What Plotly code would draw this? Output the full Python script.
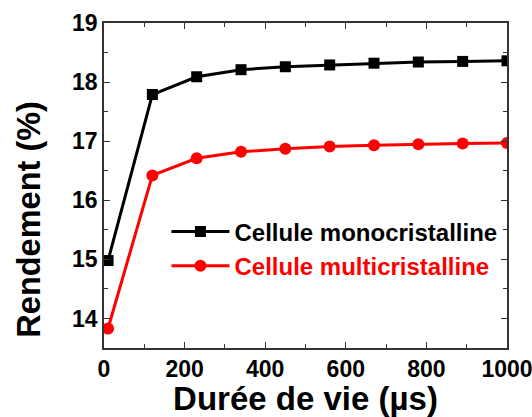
import plotly.graph_objects as go

lifetime = [10, 120, 230, 340, 450, 560, 670, 780, 890, 1000]
mono = [14.98, 17.79, 18.09, 18.21, 18.26, 18.29, 18.32, 18.34, 18.35, 18.36]
multi = [13.83, 16.42, 16.71, 16.82, 16.87, 16.91, 16.93, 16.95, 16.96, 16.97]
name_mono = "Cellule monocristalline"
name_multi = "Cellule multicristalline"
x_title = "Durée de vie (µs)"
y_title = "Rendement (%)"

FONT = "Arial, Liberation Sans, sans-serif"

fig = go.Figure()
fig.add_trace(go.Scatter(
    x=lifetime, y=mono, mode="lines+markers",
    name="<b>" + name_mono + "</b>",
    line=dict(color="black", width=3),
    marker=dict(symbol="square", size=11, color="black"),
))
fig.add_trace(go.Scatter(
    x=lifetime, y=multi, mode="lines+markers",
    name='<b><span style="color:#ff0000">' + name_multi + "</span></b>",
    line=dict(color="#ff0000", width=3),
    marker=dict(symbol="circle", size=12, color="#ff0000"),
))

axis_common = dict(
    showline=True, linecolor="#333333", linewidth=1.5, mirror="ticks",
    ticks="inside", ticklen=6, tickwidth=1.2, tickcolor="#333333",
    showgrid=False, zeroline=False, automargin=False, ticklabeloverflow="allow",
    tickfont=dict(family=FONT, size=23, color="black", weight="bold"),
)

fig.update_layout(
    width=532, height=417,
    margin=dict(l=104, r=25, t=23, b=69, autoexpand=False),
    paper_bgcolor="white", plot_bgcolor="white",
    showlegend=True,
    legend=dict(
        x=0.155, y=0.305, xanchor="left", yanchor="middle",
        bgcolor="rgba(0,0,0,0)", borderwidth=0,
        font=dict(family=FONT, size=24, color="black"),
        tracegroupgap=0, itemwidth=58,
    ),
    xaxis=dict(
        range=[0, 1000], tickvals=[0, 200, 400, 600, 800, 1000],
        minor=dict(tickvals=[100, 300, 500, 700, 900], ticks="inside", ticklen=4, tickcolor="#333333"),
        title=dict(text="<b>" + x_title + "</b>", font=dict(family=FONT, size=33, color="black"), standoff=1),
        **axis_common,
    ),
    yaxis=dict(
        range=[13.5, 19], tickvals=[14, 15, 16, 17, 18, 19],
        minor=dict(tickvals=[13.5, 14.5, 15.5, 16.5, 17.5, 18.5], ticks="inside", ticklen=4, tickcolor="#333333"),
        **axis_common,
    ),
    annotations=[dict(
        text="<b>" + y_title + "</b>", textangle=-90,
        xref="paper", yref="paper", x=0, y=0.395,
        xanchor="center", yanchor="middle", xshift=-75, showarrow=False,
        font=dict(family=FONT, size=32.5, color="black"),
    )],
)

fig.write_html(
    "out.html",
    config={"displayModeBar": False},
    post_script="document.body.style.margin='0';document.body.style.overflow='hidden';",
)
